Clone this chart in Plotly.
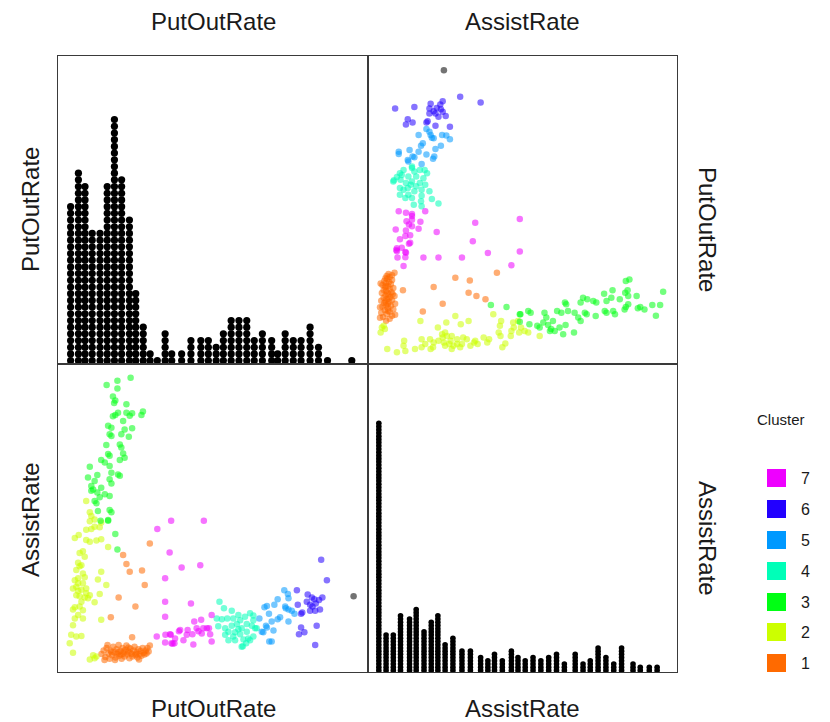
import plotly.graph_objects as go

# ---------------------------------------------------------------------------
# Players: (PutOutRate, AssistRate) grouped by cluster
# ---------------------------------------------------------------------------
cluster_names = ["1", "2", "3", "4", "5", "6", "7"]
cluster_colors = ["#FF6A00", "#CCFF00", "#00FF14", "#00FFB8", "#0099FF", "#2200FF", "#EE00FF"]

cluster1 = [
    (3.06, 2.14), (2.17, 1.95), (2.28, 1.80), (2.39, 1.67), (2.80, 1.69), (2.89, 1.45),
    (2.02, 1.24), (2.58, 1.09), (1.76, 0.91), (2.47, 0.58),
    (1.45, 0.30), (1.52, 0.36), (1.58, 0.25), (1.62, 0.40), (1.68, 0.31), (1.72, 0.22),
    (1.75, 0.36), (1.80, 0.28), (1.84, 0.42), (1.88, 0.33), (1.92, 0.24), (1.95, 0.38),
    (1.98, 0.30), (2.02, 0.45), (2.05, 0.27), (2.08, 0.35), (2.12, 0.22), (2.15, 0.40),
    (2.18, 0.31), (2.22, 0.26), (2.25, 0.37), (2.28, 0.44), (2.30, 0.29), (2.34, 0.34),
    (2.38, 0.23), (2.41, 0.39), (2.45, 0.30), (2.48, 0.26), (2.52, 0.36), (2.55, 0.42),
    (2.58, 0.28), (2.62, 0.33), (2.65, 0.24), (2.68, 0.38), (2.72, 0.30), (2.75, 0.35),
    (2.78, 0.27), (2.82, 0.40), (2.85, 0.32), (2.88, 0.29), (2.92, 0.36), (2.95, 0.31),
    (2.98, 0.40), (3.02, 0.34), (3.06, 0.44), (1.55, 0.20), (1.65, 0.45), (1.90, 0.20),
    (2.00, 0.33), (2.20, 0.34), (2.40, 0.32), (2.60, 0.30), (2.70, 0.21), (2.10, 0.29),
    (1.78, 0.33), (2.35, 0.41),
]
cluster2 = [
    (0.94, 2.85), (1.06, 2.66), (1.11, 2.60), (1.22, 2.54), (1.44, 2.49),
    (1.06, 2.51), (1.22, 2.42), (0.94, 2.37), (1.11, 2.38), (1.39, 2.41), (0.69, 2.28),
    (0.56, 2.23), (0.94, 2.20), (1.06, 2.17), (1.28, 2.19), (1.44, 2.21), (0.83, 2.01),
    (0.72, 1.98), (0.89, 1.92), (1.67, 2.08), (0.67, 1.82), (0.78, 1.78), (0.72, 1.76),
    (1.44, 1.67), (0.61, 1.70), (0.83, 1.64), (0.67, 1.56), (0.56, 1.53), (0.89, 1.58),
    (1.33, 1.54), (0.50, 1.39), (0.61, 1.42), (0.78, 1.37), (0.94, 1.39), (1.61, 1.45),
    (1.39, 1.30), (0.61, 1.28), (0.72, 1.26), (0.89, 1.24), (1.00, 1.23), (0.78, 1.17),
    (0.56, 1.08), (0.50, 1.04), (0.83, 1.03), (1.22, 1.16), (0.67, 0.95), (0.56, 0.89),
    (0.83, 0.89), (1.44, 0.87), (0.50, 0.78), (0.44, 0.62), (0.61, 0.59), (0.78, 0.60),
    (0.39, 0.48), (0.50, 0.32), (1.17, 0.28), (1.22, 0.23), (1.06, 0.21), (1.28, 0.26),
    (0.67, 1.48), (0.83, 1.48), (0.94, 1.31), (0.67, 1.35), (1.06, 1.28), (0.72, 1.09),
]
cluster3 = [
    (2.42, 4.90), (1.98, 4.85), (1.62, 4.78), (1.98, 4.72), (1.83, 4.59), (1.91, 4.52),
    (1.87, 4.48), (2.28, 4.46), (2.00, 4.32), (1.91, 4.28), (1.83, 4.26), (2.28, 4.32),
    (2.47, 4.31), (2.83, 4.34), (2.78, 4.28), (2.39, 4.27), (2.17, 4.18), (1.67, 4.10),
    (1.78, 4.07), (2.22, 4.04), (2.47, 4.06), (1.72, 3.96), (1.78, 3.93), (2.11, 3.96),
    (2.36, 3.92), (1.61, 3.78), (2.06, 3.79), (2.11, 3.74), (1.67, 3.63), (1.72, 3.60),
    (2.17, 3.64), (2.22, 3.57), (2.06, 3.53), (1.44, 3.53), (1.56, 3.49), (1.72, 3.43),
    (1.06, 3.42), (1.31, 3.28), (1.78, 3.32), (2.00, 3.29), (2.06, 3.27), (1.00, 3.24),
    (1.22, 3.18), (1.72, 3.21), (1.78, 3.14), (1.11, 3.10), (1.17, 3.04), (1.44, 3.07),
    (1.56, 2.96), (1.39, 2.91), (1.72, 2.93), (1.22, 2.85), (1.28, 2.81), (1.33, 2.68),
    (1.72, 2.70), (1.78, 2.66), (1.67, 2.53), (1.11, 3.02), (1.31, 2.99),
    (1.42, 2.52), (1.67, 2.52), (1.91, 2.30), (1.98, 2.04),
]
cluster4 = [
    (5.38, 1.17), (5.53, 1.06), (5.79, 1.02), (6.01, 0.95), (5.29, 0.89), (5.46, 0.88),
    (5.64, 0.89), (5.84, 0.89), (6.07, 0.86), (6.23, 0.92), (6.40, 0.98), (6.51, 0.86),
    (5.34, 0.76), (5.57, 0.73), (5.79, 0.77), (5.96, 0.80), (6.12, 0.73), (6.29, 0.80),
    (6.46, 0.77), (6.62, 0.73), (5.68, 0.67), (5.90, 0.66), (6.07, 0.63), (6.29, 0.67),
    (6.51, 0.59), (5.57, 0.62), (5.84, 0.59), (6.18, 0.54), (5.68, 0.53), (5.90, 0.53),
    (6.40, 0.53), (6.16, 0.43), (6.27, 0.48), (6.01, 0.71), (6.57, 0.73), (6.34, 0.56),
    (6.12, 0.42), (6.51, 0.94),
]
cluster5 = [
    (7.54, 1.36), (7.66, 1.30), (7.32, 1.21), (7.21, 1.12), (6.96, 1.10), (7.57, 1.09),
    (7.68, 1.04), (7.79, 1.02), (7.88, 0.97), (7.03, 0.97), (7.40, 0.91), (7.32, 0.88),
    (7.68, 0.84), (7.12, 0.84), (6.96, 0.74), (7.18, 0.69), (7.12, 0.51), (6.71, 0.89),
    (6.93, 0.77), (6.84, 0.66), (7.04, 0.51), (7.68, 1.23), (6.79, 0.67), (7.59, 1.06),
    (6.88, 1.08),
]
cluster6 = [
    (8.77, 1.87), (8.96, 1.53), (7.96, 1.36), (8.46, 1.24), (8.54, 1.21), (8.81, 1.24),
    (8.29, 1.17), (8.40, 1.12), (7.99, 1.12), (8.59, 1.14), (8.73, 1.04), (8.57, 1.02),
    (8.40, 1.02), (8.14, 0.99), (8.10, 0.97), (8.62, 0.77), (8.10, 0.74), (8.21, 0.66),
    (8.03, 0.63), (8.57, 0.45), (8.32, 1.29), (8.70, 1.20), (8.48, 1.09),
]
cluster7 = [
    (3.77, 2.52), (4.86, 2.52), (3.31, 2.38), (3.72, 1.99), (4.12, 1.74), (4.74, 1.78),
    (3.57, 1.56), (3.57, 1.17), (4.43, 1.14), (3.57, 0.92), (5.12, 0.95), (3.29, 0.59),
    (3.57, 0.49), (3.58, 0.62), (3.76, 0.62), (3.73, 0.63), (3.90, 0.56), (4.03, 0.68),
    (4.18, 0.53), (4.32, 0.70), (4.48, 0.63), (4.51, 0.46), (4.54, 0.84), (4.68, 0.68),
    (4.77, 0.87), (4.84, 0.73), (4.96, 0.73), (5.03, 0.73), (5.07, 0.63), (5.12, 0.51),
    (3.88, 0.48), (4.29, 0.62), (4.07, 0.70), (4.62, 0.73), (3.82, 0.47), (4.79, 0.64),
    (3.78, 0.48),
]
# player not assigned to any cluster
unassigned = [(9.85, 1.26)]

clusters = [cluster1, cluster2, cluster3, cluster4, cluster5, cluster6, cluster7]

# ---------------------------------------------------------------------------
# Dot-plot stacks on the diagonal: stack position and number of players
# ---------------------------------------------------------------------------
putout_bins = [0.42, 0.68, 0.90, 1.14, 1.40, 1.64, 1.88, 2.12, 2.38, 2.59, 2.84, 3.07,
               3.31, 3.57, 3.79, 4.12, 4.43, 4.76, 5.01, 5.27, 5.51, 5.77, 6.03, 6.29,
               6.54, 6.81, 7.12, 7.32, 7.57, 7.84, 8.10, 8.40, 8.68, 8.98, 9.79]
putout_counts = [24, 29, 27, 20, 20, 27, 37, 28, 22, 11, 6, 2,
                 1, 5, 2, 2, 4, 4, 4, 3, 5, 7, 7, 7,
                 4, 5, 4, 2, 5, 4, 4, 6, 3, 1, 1]

assist_bins = [0.18, 0.30, 0.42, 0.54, 0.69, 0.80, 0.93, 1.05, 1.16, 1.28, 1.41, 1.56,
               1.70, 1.87, 1.99, 2.10, 2.23, 2.38, 2.49, 2.61, 2.74, 2.87, 3.00, 3.13,
               3.26, 3.44, 3.57, 3.69, 3.82, 3.95, 4.08, 4.21, 4.40, 4.52, 4.67, 4.80]
assist_counts = [78, 12, 12, 18, 17, 20, 13, 16, 18, 9, 11, 7,
                 7, 5, 4, 6, 4, 7, 5, 4, 5, 4, 5, 6,
                 3, 6, 3, 4, 8, 5, 3, 8, 3, 2, 2, 2]

PUT_RANGE = [0, 10.33]
AST_RANGE = [0, 5.13]

# ---------------------------------------------------------------------------
fig = go.Figure()

# diagonal: stacked dots, one dot per player
def stack(bins, counts):
    xs, ys = [], []
    for b, n in zip(bins, counts):
        for k in range(n):
            xs.append(b)
            ys.append(k + 0.5)
    return xs, ys

sx, sy = stack(putout_bins, putout_counts)
fig.add_trace(go.Scatter(x=sx, y=sy, mode="markers", xaxis="x", yaxis="y",
                         marker=dict(color="black", size=7.2, line=dict(width=0)),
                         showlegend=False, hoverinfo="skip"))
sx, sy = stack(assist_bins, assist_counts)
fig.add_trace(go.Scatter(x=sx, y=sy, mode="markers", xaxis="x4", yaxis="y4",
                         marker=dict(color="black", size=5.6, line=dict(width=0)),
                         showlegend=False, hoverinfo="skip"))

# off-diagonal scatter panels
groups = [(unassigned, "#000000")] + list(zip(clusters, cluster_colors))
for pts, col in groups:
    put = [p for p, a in pts]
    ast = [a for p, a in pts]
    # upper right: AssistRate (x) vs PutOutRate (y)
    fig.add_trace(go.Scatter(x=ast, y=put, mode="markers", xaxis="x2", yaxis="y2",
                             marker=dict(color=col, size=6.5, opacity=0.55, line=dict(width=0)),
                             showlegend=False))
    # lower left: PutOutRate (x) vs AssistRate (y)
    fig.add_trace(go.Scatter(x=put, y=ast, mode="markers", xaxis="x3", yaxis="y3",
                             marker=dict(color=col, size=6.5, opacity=0.55, line=dict(width=0)),
                             showlegend=False))

# ---------------------------------------------------------------------------
# Layout geometry (pixels)
W, H = 830, 722
L, R, T, B = 58, 677, 56, 672
MX, MY = 368, 364
pw, ph = R - L, B - T

def xp(px):
    return (px - L) / pw

def yp(py):
    return (B - py) / ph

frame = dict(showline=True, mirror=True, linecolor="#3a3a3a", linewidth=1.2,
             showgrid=False, zeroline=False, showticklabels=False, ticks="")

xl = [0, xp(MX)]
xr = [xp(MX), 1]
yt = [yp(MY), 1]
yb = [0, yp(MY)]

fig.update_layout(
    width=W, height=H,
    margin=dict(l=L, r=W - R, t=T, b=H - B, pad=0),
    paper_bgcolor="white", plot_bgcolor="white",
    showlegend=False,
    font=dict(family="Liberation Sans, Arial, sans-serif", color="#1a1a1a"),
    xaxis=dict(domain=xl, range=PUT_RANGE, anchor="y", **frame),
    yaxis=dict(domain=yt, range=[0, 46], anchor="x", **frame),
    xaxis2=dict(domain=xr, range=AST_RANGE, anchor="y2", **frame),
    yaxis2=dict(domain=yt, range=PUT_RANGE, anchor="x2", **frame),
    xaxis3=dict(domain=xl, range=PUT_RANGE, anchor="y3", **frame),
    yaxis3=dict(domain=yb, range=AST_RANGE, anchor="x3", **frame),
    xaxis4=dict(domain=xr, range=AST_RANGE, anchor="y4", **frame),
    yaxis4=dict(domain=yb, range=[0, 96], anchor="x4", **frame),
)

# variable labels around the matrix
def label(text, px, py, size, angle=0):
    return dict(text=text, x=xp(px), y=yp(py), xref="paper", yref="paper",
                xanchor="center", yanchor="middle", showarrow=False,
                textangle=angle, font=dict(size=size))

variables = ["PutOutRate", "AssistRate"]
col_centers = [213, 522]
left_rows = [210, 520]
right_rows = [229, 538]
ann = []
for name, cx in zip(variables, col_centers):
    ann.append(label(name, cx, 22, 24))
    ann.append(label(name, cx, 708, 24))
for name, ly, ry in zip(variables, left_rows, right_rows):
    ann.append(label(name, 30, ly, 24, -90))
    ann.append(label(name, 708, ry, 24, 90))

# cluster key
ann.append(label("Cluster", 781, 420, 15))
shapes = []
key_y = [663, 632, 602, 571, 540, 509, 478]
for name, col, ky in zip(cluster_names, cluster_colors, key_y):
    shapes.append(dict(type="rect", xref="paper", yref="paper",
                       x0=xp(767), x1=xp(786), y0=yp(ky + 9), y1=yp(ky - 9),
                       fillcolor=col, line=dict(width=0)))
    ann.append(label(name, 805, ky, 16))

fig.update_layout(annotations=ann, shapes=shapes)

fig.write_html("out.html")
